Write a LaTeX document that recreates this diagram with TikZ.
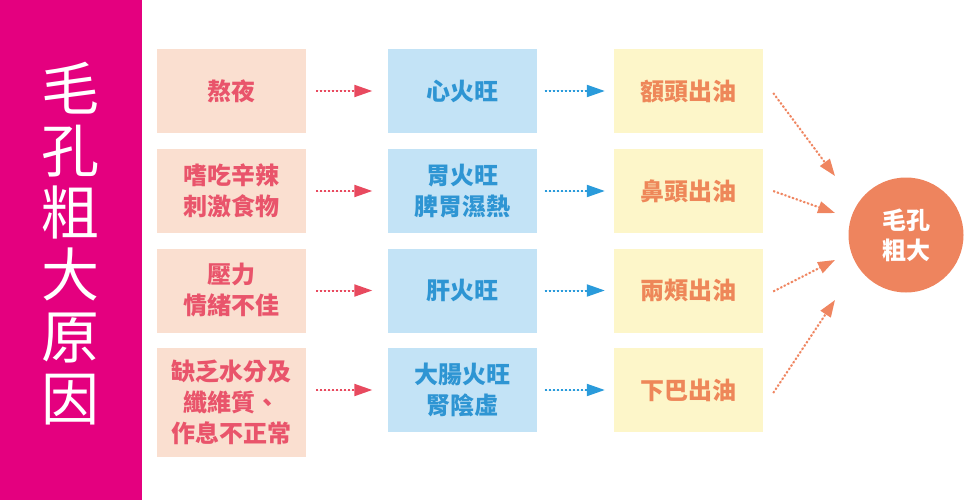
\documentclass[tikz,border=0pt]{standalone}
\usepackage{fontspec}
\setmainfont{Noto Sans CJK TC}
\usetikzlibrary{arrows.meta,calc}
\definecolor{magbar}{HTML}{E4007F}
\definecolor{peachfill}{HTML}{FADFD0}
\definecolor{peachtext}{HTML}{E9546B}
\definecolor{bluefill}{HTML}{C3E3F6}
\definecolor{bluetext}{HTML}{2E95D3}
\definecolor{yelfill}{HTML}{FDF6C9}
\definecolor{yeltext}{HTML}{EE8759}
\definecolor{circfill}{HTML}{EE845E}
\definecolor{redarrow}{HTML}{E84A5F}
\definecolor{bluearrow}{HTML}{2A9BDB}
\definecolor{orgarrow}{HTML}{EF8560}
\tikzset{
  boxbase/.style={rectangle, minimum width=149pt, minimum height=84pt, inner sep=0pt, align=center, font=\bfseries\fontsize{24}{31}\selectfont},
  causebox/.style={boxbase, fill=peachfill, text=peachtext},
  firebox/.style={boxbase, fill=bluefill, text=bluetext},
  oilbox/.style={boxbase, fill=yelfill, text=yeltext},
  dotarrow/.style={line width=2pt, dash pattern=on 2pt off 2pt, -{Triangle[length=18pt,width=12pt]}},
  redarr/.style={dotarrow, draw=redarrow, fill=redarrow, shorten <=10pt, shorten >=15pt},
  bluearr/.style={dotarrow, draw=bluearrow, fill=bluearrow, shorten <=8pt, shorten >=9pt},
  orgarr/.style={dotarrow, draw=orgarrow, fill=orgarrow, -{Triangle[length=17pt,width=12pt]}},
  titletext/.style={text=white, align=center, font=\fontsize{58}{62}\selectfont, inner sep=0pt}
}
\begin{document}
\begin{tikzpicture}[x=1pt,y=-1pt]
\useasboundingbox (0,0) rectangle (980,500);
\fill[magbar] (0,0) rectangle (142,500);
\node[titletext] (title) at (70.5,243.5) {毛\\孔\\粗\\大\\原\\因};

\node[causebox] (a1) at (231.5,91) {熬夜};
\node[causebox] (a2) at (231.5,191) {嗜吃辛辣\\刺激食物};
\node[causebox] (a3) at (231.5,290.5) {壓力\\情緒不佳};
\node[causebox, minimum height=109pt] (a4) at (231.5,402.5) {缺乏水分及\\纖維質、\\作息不正常};

\node[firebox] (b1) at (462,91) {心火旺};
\node[firebox] (b2) at (462,191) {胃火旺\\脾胃濕熱};
\node[firebox] (b3) at (462,290.5) {肝火旺};
\node[firebox] (b4) at (462,390) {大腸火旺\\腎陰虛};

\node[oilbox] (c1) at (688.5,91) {額頭出油};
\node[oilbox] (c2) at (688.5,191) {鼻頭出油};
\node[oilbox] (c3) at (688.5,290.5) {兩頰出油};
\node[oilbox] (c4) at (688.5,390) {下巴出油};

\node[circle, fill=circfill, text=white, minimum size=115pt, inner sep=0pt, align=center, font=\bfseries\fontsize{24}{30}\selectfont] (d) at (906,235) {毛孔\\粗大};

\draw[redarr] (a1.east) -- (b1.west);
\draw[redarr] (a2.east) -- (b2.west);
\draw[redarr] (a3.east) -- (b3.west);
\draw[redarr] (a4.east |- b4.west) -- (b4.west);

\draw[bluearr] (b1.east) -- (c1.west);
\draw[bluearr] (b2.east) -- (c2.west);
\draw[bluearr] (b3.east) -- (c3.west);
\draw[bluearr] (b4.east) -- (c4.west);

\coordinate (t1) at (835,176);
\coordinate (t2) at (835,213);
\coordinate (t3) at (835,260);
\coordinate (t4) at (835,300);
\draw[orgarr] ([xshift=10pt,yshift=-2pt]c1.east) -- (t1);
\draw[orgarr] ([xshift=10pt]c2.east) -- (t2);
\draw[orgarr] ([xshift=10pt,yshift=-1pt]c3.east) -- (t3);
\draw[orgarr] ([xshift=10pt,yshift=-3pt]c4.east) -- (t4);
\end{tikzpicture}
\end{document}
